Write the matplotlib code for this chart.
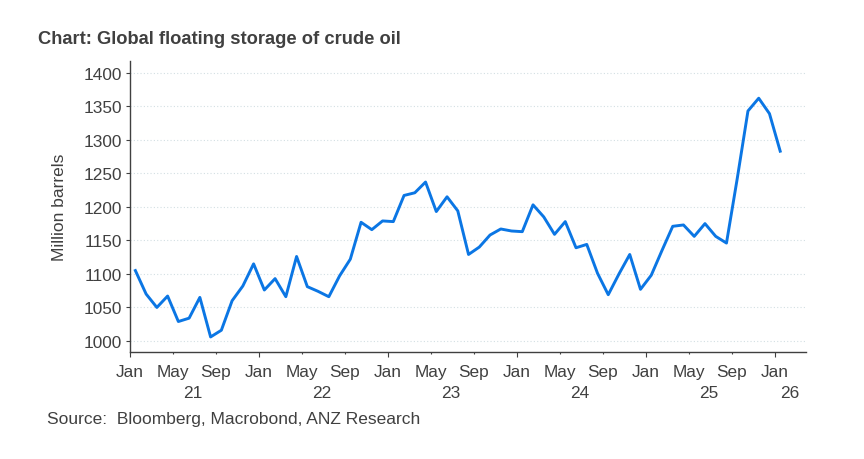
import numpy as np
from matplotlib import pyplot as plt
plt.rcParams["font.family"] = "Liberation Sans"

W, H = 864, 460
text_col = "#404040"

# monthly values, Jan 2021 to Jan 2026
storage = [1105, 1070, 1050, 1067, 1029, 1034, 1065, 1006, 1016, 1060, 1082, 1115,
           1076, 1093, 1066, 1126, 1081, 1074, 1066, 1097, 1122, 1177, 1166, 1179,
           1178, 1217, 1221, 1237, 1193, 1215, 1194, 1129, 1140, 1158, 1167, 1164,
           1163, 1203, 1185, 1159, 1178, 1139, 1144, 1101, 1069, 1100, 1129, 1077,
           1098, 1135, 1171, 1173, 1156, 1175, 1156, 1146, 1242, 1343, 1362, 1339, 1283]
y_ticks = [1000, 1050, 1100, 1150, 1200, 1250, 1300, 1350, 1400]
month_labels = ["Jan", "May", "Sep"] * 5 + ["Jan"]
month_ticks = list(range(0, 61, 4))
year_labels = ["21", "22", "23", "24", "25", "26"]
year_ticks = [5.85, 17.85, 29.85, 41.85, 53.85, 61.35]

fig = plt.figure(figsize=(W / 100, H / 100), dpi=100)
ax = fig.add_axes([130 / W, 1 - 352.7 / H, (806 - 130) / W, (352.7 - 62) / H])

ax.plot(np.arange(len(storage)) + 0.5, storage, c="#0b76e4", lw=2.1, solid_joinstyle="round", zorder=3)

ax.set_xlim(0, 62.9)
ax.set_ylim(984, 1417.5)
ax.set_yticks(y_ticks)
ax.set_yticklabels(y_ticks, fontsize=12.4, color=text_col)
ax.set_xticks(month_ticks)
ax.set_xticklabels(month_labels, fontsize=12.4, color=text_col)
ax.grid(axis="y", color="#d3dfe3", lw=0.8, ls=(0, (1, 2)))
ax.set_axisbelow(True)

for side in ["top", "right"]:
    ax.spines[side].set_visible(False)
for side in ["left", "bottom"]:
    ax.spines[side].set_color(text_col)
    ax.spines[side].set_linewidth(1.0)

ax.tick_params(axis="y", length=3, width=0.8, color=text_col, pad=3)
ax.tick_params(axis="x", length=3.6, width=0.8, color=text_col, pad=5.5)
for i, tick in enumerate(ax.xaxis.get_major_ticks()):
    if month_labels[i] != "Jan":
        tick.tick1line.set_markersize(1.6)

years = ax.secondary_xaxis("bottom")
years.set_xticks(year_ticks)
years.set_xticklabels(year_labels, fontsize=12.4, color=text_col)
years.tick_params(axis="x", length=0, pad=24)
years.spines["bottom"].set_visible(False)

ax.set_ylabel("Million barrels", fontsize=12.5, color=text_col, labelpad=12)
fig.text(38 / W, 1 - 39 / H, "Chart: Global floating storage of crude oil", fontsize=13.2,
         fontweight="bold", color=text_col, va="center")
fig.text(47 / W, 1 - 420 / H, "Source:  Bloomberg, Macrobond, ANZ Research", fontsize=12.5,
         color=text_col, va="center")

plt.savefig("out.png", dpi=100)
